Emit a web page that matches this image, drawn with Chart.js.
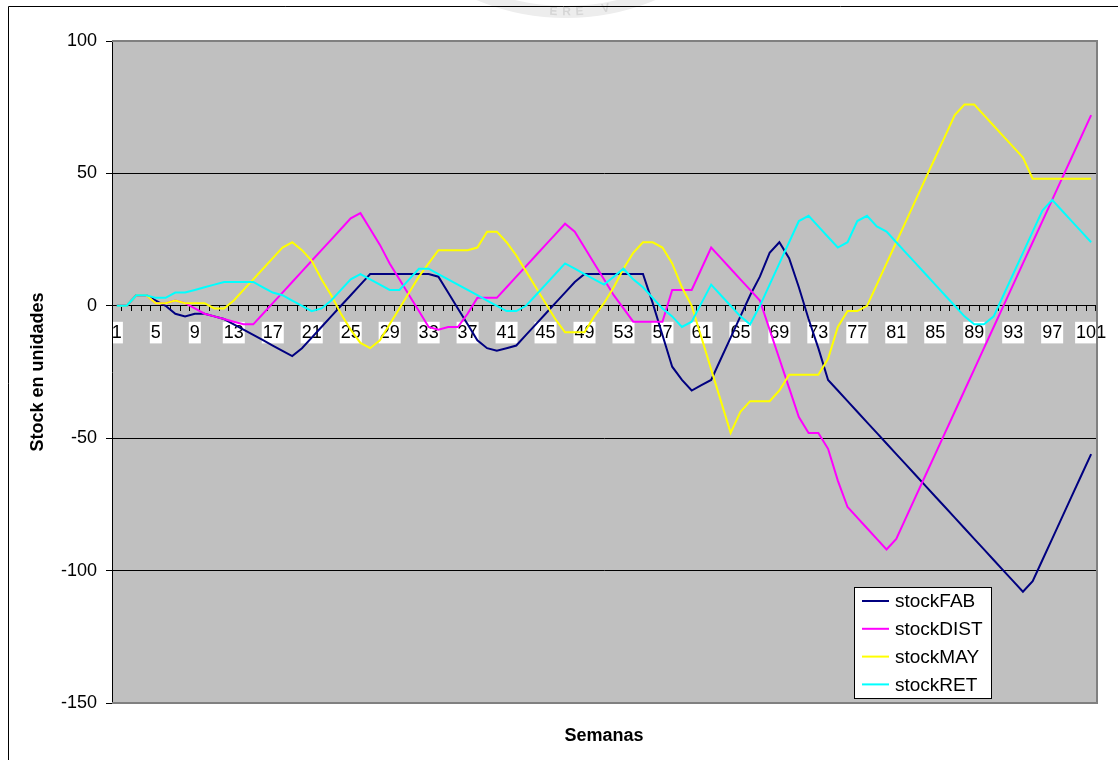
<!DOCTYPE html>
<html>
<head>
<meta charset="utf-8">
<script src="https://cdn.jsdelivr.net/npm/chart.js@4.4.1/dist/chart.umd.min.js"></script>
<style>
  html, body { margin: 0; padding: 0; background: #fff; }
  canvas { display: block; }
</style>
</head>
<body>
<canvas id="chart" width="1118" height="760"></canvas>
<script>
// Weeks on the category axis
const weeks = [
  1, 2, 3, 4, 5, 6, 7, 8, 9, 10, 11, 12, 13, 14, 15, 16, 17, 18, 19, 20,
  21, 22, 23, 24, 25, 26, 27, 28, 29, 30, 31, 32, 33, 34, 35, 36, 37, 38, 39, 40,
  41, 42, 43, 44, 45, 46, 47, 48, 49, 50, 51, 52, 53, 54, 55, 56, 57, 58, 59, 60,
  61, 62, 63, 64, 65, 66, 67, 68, 69, 70, 71, 72, 73, 74, 75, 76, 77, 78, 79, 80,
  81, 82, 83, 84, 85, 86, 87, 88, 89, 90, 91, 92, 93, 94, 95, 96, 97, 98, 99, 100,
  101
];

// Stock per week at each level of the chain
const stockFAB = [
  0, 0, 4, 4, 2, 0, -3, -4, -3, -3,
  -4, -5, -7, -9, -11, -13, -15, -17, -19, -16,
  -12, -8, -4, 0, 4, 8, 12, 12, 12, 12,
  12, 12, 12, 11, 5, -1, -7, -13, -16, -17,
  -16, -15, -11, -7, -3, 1, 5, 9, 12, 12,
  12, 12, 12, 12, 12, 1, -11, -23, -28, -32,
  -30, -28, -20, -12, -4, 4, 11, 20, 24, 18,
  7, -5, -16, -28, -32, -36, -40, -44, -48, -52,
  -56, -60, -64, -68, -72, -76, -80, -84, -88, -92,
  -96, -100, -104, -108, -104, -96, -88, -80, -72, -64,
  -56
];
const stockDIST = [
  0, 0, 4, 4, 1, 1, 2, 1, -1, -3,
  -4, -5, -6, -7, -7, -3, 1, 5, 9, 13,
  17, 21, 25, 29, 33, 35, 29, 23, 16, 10,
  4, -2, -8, -9, -8, -8, -3, 3, 3, 3,
  7, 11, 15, 19, 23, 27, 31, 28, 22, 16,
  10, 4, -1, -6, -6, -6, -6, 6, 6, 6,
  14, 22, 18, 14, 10, 6, 2, -9, -20, -31,
  -42, -48, -48, -54, -66, -76, -80, -84, -88, -92,
  -88, -80, -72, -64, -56, -48, -40, -32, -24, -16,
  -8, 0, 8, 16, 24, 32, 40, 48, 56, 64,
  72
];
const stockMAY = [
  0, 0, 4, 4, 1, 1, 2, 1, 1, 1,
  -1, -1, 2, 6, 10, 14, 18, 22, 24, 21,
  17, 10, 4, -3, -9, -14, -16, -13, -7, -1,
  5, 11, 16, 21, 21, 21, 21, 22, 28, 28,
  24, 19, 13, 7, 1, -5, -10, -10, -10, -4,
  1, 7, 14, 20, 24, 24, 22, 16, 7, 0,
  -12, -24, -36, -48, -40, -36, -36, -36, -32, -26,
  -26, -26, -26, -20, -8, -2, -2, 0, 8, 16,
  24, 32, 40, 48, 56, 64, 72, 76, 76, 72,
  68, 64, 60, 56, 48, 48, 48, 48, 48, 48,
  48
];
const stockRET = [
  0, 0, 4, 4, 3, 3, 5, 5, 6, 7,
  8, 9, 9, 9, 9, 7, 5, 4, 2, 0,
  -2, -1, 2, 6, 10, 12, 10, 8, 6, 6,
  10, 14, 14, 12, 10, 8, 6, 4, 2, 0,
  -2, -2, 0, 4, 8, 12, 16, 14, 12, 10,
  8, 11, 14, 10, 7, 3, -1, -4, -8, -6,
  1, 8, 4, 0, -4, -7, 0, 8, 16, 24,
  32, 34, 30, 26, 22, 24, 32, 34, 30, 28,
  24, 20, 16, 12, 8, 4, 0, -4, -7, -7,
  -4, 4, 12, 20, 28, 36, 40, 36, 32, 28,
  24
];

// Value axis ticks
const yTicks = [-150, -100, -50, 0, 50, 100];
// Every fourth week carries a label on the axis
const labelEvery = 4;

const FONT = '"Liberation Sans", Arial, Helvetica, sans-serif';

// Page frame, faint seal at the top and grey plot background
const backdropPlugin = {
  id: 'backdrop',
  beforeDraw(chart) {
    const { ctx, chartArea: a, width, height } = chart;
    ctx.save();
    ctx.fillStyle = '#fff';
    ctx.fillRect(0, 0, width, height);

    // seal arc
    ctx.strokeStyle = '#ededed';
    ctx.lineWidth = 12;
    ctx.beginPath();
    ctx.arc(566, -214, 226, 0, Math.PI);
    ctx.stroke();
    ctx.fillStyle = '#d6d6d6';
    ctx.font = 'bold 12px ' + FONT;
    ctx.textAlign = 'center';
    ctx.textBaseline = 'middle';
    const letters = 'ERE V'.split('');
    letters.forEach((ch, k) => {
      const ang = Math.PI / 2 - (k - 2) * 0.058 - 0.06;
      const r = 226;
      const x = 566 + r * Math.cos(ang);
      const y = -214 + r * Math.sin(ang);
      ctx.save();
      ctx.translate(x, y);
      ctx.rotate(ang - Math.PI / 2);
      ctx.fillText(ch, 0, 0);
      ctx.restore();
    });

    // frame
    ctx.strokeStyle = '#000';
    ctx.lineWidth = 1;
    ctx.beginPath();
    ctx.moveTo(8.5, height);
    ctx.lineTo(8.5, 6.5);
    ctx.lineTo(width, 6.5);
    ctx.stroke();

    ctx.fillStyle = '#c0c0c0';
    ctx.fillRect(a.left, a.top, a.right - a.left, a.bottom - a.top);
    ctx.restore();
  },
  beforeDatasetsDraw(chart) {
    const { ctx, chartArea: a } = chart;
    ctx.save();
    ctx.strokeStyle = '#808080';
    ctx.lineWidth = 2;
    ctx.beginPath();
    ctx.moveTo(a.left, a.top);
    ctx.lineTo(a.right + 1, a.top);
    ctx.lineTo(a.right + 1, a.bottom);
    ctx.lineTo(a.left, a.bottom);
    ctx.stroke();
    ctx.restore();
  }
};

// Boxed legend inside the lower right of the plot
const boxLegendPlugin = {
  id: 'boxLegend',
  afterDraw(chart) {
    const { ctx } = chart;
    const x = 854, y = 587, w = 137, h = 111;
    ctx.save();
    ctx.fillStyle = '#fff';
    ctx.fillRect(x, y, w, h);
    ctx.strokeStyle = '#000';
    ctx.lineWidth = 1;
    ctx.strokeRect(x + 0.5, y + 0.5, w, h);
    ctx.font = '19px ' + FONT;
    ctx.textBaseline = 'middle';
    ctx.textAlign = 'left';
    chart.data.datasets.forEach((ds, k) => {
      const cy = y + 14 + k * 27.8;
      ctx.strokeStyle = ds.borderColor;
      ctx.lineWidth = 2;
      ctx.beginPath();
      ctx.moveTo(x + 8, cy);
      ctx.lineTo(x + 35, cy);
      ctx.stroke();
      ctx.fillStyle = '#000';
      ctx.fillText(ds.label, x + 41, cy + 1);
    });
    ctx.restore();
  }
};

const series = [
  { label: 'stockFAB', data: stockFAB, color: '#000080', order: 4 },
  { label: 'stockDIST', data: stockDIST, color: '#ff00ff', order: 3 },
  { label: 'stockMAY', data: stockMAY, color: '#ffff00', order: 2 },
  { label: 'stockRET', data: stockRET, color: '#00ffff', order: 1 }
];

new Chart(document.getElementById('chart'), {
  type: 'line',
  data: {
    labels: weeks.map(String),
    datasets: series.map(s => ({
      label: s.label,
      data: s.data,
      borderColor: s.color,
      backgroundColor: s.color,
      borderWidth: 2,
      pointRadius: 0,
      pointHoverRadius: 0,
      tension: 0,
      fill: false,
      order: s.order
    }))
  },
  options: {
    responsive: false,
    animation: false,
    devicePixelRatio: 1,
    events: [],
    layout: { padding: { left: 16, right: 22, top: 41, bottom: 5 } },
    plugins: {
      legend: { display: false },
      title: { display: false },
      tooltip: { enabled: false }
    },
    scales: {
      x: {
        type: 'category',
        position: { y: 0 },
        offset: true,
        z: 1,
        afterFit: s => { s.height = 0; },
        grid: {
          offset: true,
          drawOnChartArea: false,
          drawTicks: true,
          tickLength: 5,
          color: '#000',
          lineWidth: 1
        },
        border: { display: false },
        ticks: {
          autoSkip: false,
          maxRotation: 0,
          minRotation: 0,
          padding: 11,
          color: '#000',
          font: { family: FONT, size: 18 },
          callback: (v, i) => (i % labelEvery === 0 ? String(weeks[i]) : ''),
          showLabelBackdrop: c => c.index % labelEvery === 0,
          backdropColor: '#fff',
          backdropPadding: { x: 1, y: 0 }
        }
      },
      xTitle: {
        type: 'category',
        position: 'bottom',
        afterFit: s => { s.height = 52; },
        grid: { display: false, drawTicks: false },
        border: { display: false },
        ticks: { display: false },
        title: {
          display: true,
          text: 'Semanas',
          color: '#000',
          font: { family: FONT, size: 18, weight: 'bold' },
          padding: { top: 0, bottom: 8 }
        }
      },
      y: {
        type: 'linear',
        min: yTicks[0],
        max: yTicks[yTicks.length - 1],
        afterFit: s => { s.width = 96; },
        afterBuildTicks: s => { s.ticks = yTicks.map(v => ({ value: v })); },
        ticks: {
          color: '#000',
          padding: 9,
          font: { family: FONT, size: 18 }
        },
        grid: {
          color: c => (c.tick && (c.tick.value === yTicks[0] || c.tick.value === yTicks[yTicks.length - 1]))
            ? 'rgba(0,0,0,0)' : '#000',
          tickColor: '#000',
          tickLength: 6,
          lineWidth: 1
        },
        border: { color: '#000', width: 1 },
        title: {
          display: true,
          text: 'Stock en unidades',
          color: '#000',
          font: { family: FONT, size: 18, weight: 'bold' },
          padding: { top: 11, bottom: 0 }
        }
      }
    }
  },
  plugins: [backdropPlugin, boxLegendPlugin]
});
</script>
</body>
</html>
